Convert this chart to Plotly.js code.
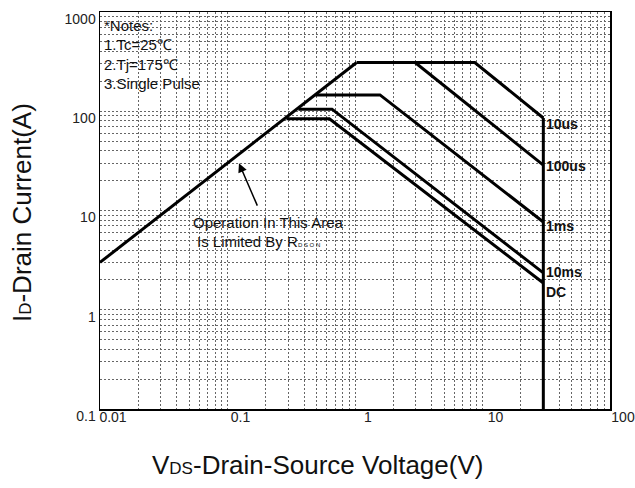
<!DOCTYPE html>
<html>
<head>
<meta charset="utf-8">
<script src="https://cdn.plot.ly/plotly-3.0.1.min.js"></script>
<style>html,body{margin:0;padding:0;background:#fff;}#chart{width:635px;height:488px;}</style>
</head>
<body>
<div id="chart"></div>
<script>
// Safe operating area data (VDS in V, ID in A)
const rdsonV = [0.01, 1.03];
const rdsonI = [3.0, 310];
const us10V = [1.03, 8.7, 30];
const us10I = [310, 310, 85.5];
const us100V = [2.96, 30];
const us100I = [310, 28.7];
const ms1V = [0.49, 1.57, 30];
const ms1I = [146, 146, 7.66];
const ms10V = [0.36, 0.66, 30];
const ms10I = [105, 105, 2.35];
const dcV = [0.29, 0.63, 30];
const dcI = [84, 84, 1.86];
const vmaxV = [30, 30];
const vmaxI = [85.5, 0.09];

const seriesLabels = ['10us', '100us', '1ms', '10ms', 'DC'];
const seriesLabelI = [74.5, 28, 7.0, 2.4, 1.51];
const notes = ['*Notes:', '1.Tc=25\u2103', '2.Tj=175\u2103', '3.Single Pulse'];

const xTickVals = [0.01, 0.1, 1, 10, 100];
const xTickText = ['0.01', '0.1', '1', '10', '100'];
const yTickVals = [0.1, 1, 10, 100, 1000];
const yTickText = ['0.1', '1', '10', '100', '1000'];
const xTitle = 'V<span style="font-size:17px">DS</span>-Drain-Source Voltage(V)';
const yTitle = 'I<span style="font-size:17px">D</span>-Drain Current(A)';

const lineStyle = {color: '#000', width: 3};
function tr(x, y) {
  return {x: x, y: y, type: 'scatter', mode: 'lines', line: lineStyle, hoverinfo: 'skip', showlegend: false};
}
const data = [
  tr(rdsonV, rdsonI), tr(us10V, us10I), tr(us100V, us100I), tr(ms1V, ms1I),
  tr(ms10V, ms10I), tr(dcV, dcI), tr(vmaxV, vmaxI)
];

const FONT = 'Arial, Liberation Sans, sans-serif';
const annotations = [];
notes.forEach((t, i) => {
  annotations.push({xref: 'paper', yref: 'paper', x: 0.004, y: [0.967, 0.917, 0.869, 0.819][i],
    xanchor: 'left', yanchor: 'middle', showarrow: false, text: t,
    font: {family: FONT, size: 15, color: '#111'}});
});
seriesLabels.forEach((t, i) => {
  annotations.push({xref: 'x', yref: 'y', x: Math.log10(vmaxV[0]), y: Math.log10(seriesLabelI[i]),
    xanchor: 'left', yanchor: 'middle', xshift: 1, showarrow: false, text: '<b>' + t + '</b>',
    font: {family: FONT, size: 14, color: '#111'}});
});
annotations.push({xref: 'paper', yref: 'paper', x: 0.178, y: 0.471, xanchor: 'left', yanchor: 'middle',
  showarrow: false, text: 'Operation In This Area', font: {family: FONT, size: 15, color: '#111'}});
annotations.push({xref: 'paper', yref: 'paper', x: 0.186, y: 0.421, xanchor: 'left', yanchor: 'middle',
  showarrow: false, text: 'Is Limited By R<span style="font-size:6px">D S O N</span>',
  font: {family: FONT, size: 15, color: '#111'}});
annotations.push({xref: 'x', yref: 'y', x: Math.log10(0.123), y: Math.log10(30), text: '',
  showarrow: true, axref: 'pixel', ayref: 'pixel', ax: 19, ay: 44,
  arrowhead: 2, arrowsize: 1.2, arrowwidth: 1.5, arrowcolor: '#000'});
// axis titles (placed relative to the whole figure, as in the reference)
annotations.push({xref: 'paper', yref: 'paper', x: 0.427, y: -0.141, xanchor: 'center', yanchor: 'middle',
  showarrow: false, text: xTitle, font: {family: FONT, size: 26, color: '#111'}});
annotations.push({xref: 'paper', yref: 'paper', x: -0.153, y: 0.496, xanchor: 'center', yanchor: 'middle',
  textangle: -90, showarrow: false, text: yTitle, font: {family: FONT, size: 26, color: '#111'}});

const gridStyle = {showgrid: true, gridcolor: '#666', gridwidth: 1, griddash: '2px,2px'};
const minorStyle = {dtick: 'D1', showgrid: true, gridcolor: '#666', gridwidth: 1, griddash: '2px,2px'};
const layout = {
  width: 635, height: 488,
  margin: {l: 100, r: 25, t: 12, b: 79},
  paper_bgcolor: '#fff', plot_bgcolor: '#fff',
  font: {family: FONT, color: '#111'},
  showlegend: false,
  xaxis: Object.assign({
    type: 'log', range: [-2, 2], tickvals: xTickVals, ticktext: xTickText,
    ticks: '', showline: true, mirror: true, linecolor: '#000', linewidth: 1.5,
    zeroline: false, ticklabelshift: 13, ticklabelstandoff: -5,
    tickfont: {family: FONT, size: 14, color: '#222'},
    minor: minorStyle
  }, gridStyle),
  yaxis: Object.assign({
    type: 'log', range: [-1, 3], tickvals: yTickVals, ticktext: yTickText,
    ticks: '', showline: true, mirror: true, linecolor: '#000', linewidth: 1.5,
    zeroline: false, ticklabelshift: 7,
    tickfont: {family: FONT, size: 14, color: '#222'},
    minor: minorStyle
  }, gridStyle),
  annotations: annotations
};
Plotly.newPlot('chart', data, layout, {staticPlot: true, displayModeBar: false});
</script>
</body>
</html>
